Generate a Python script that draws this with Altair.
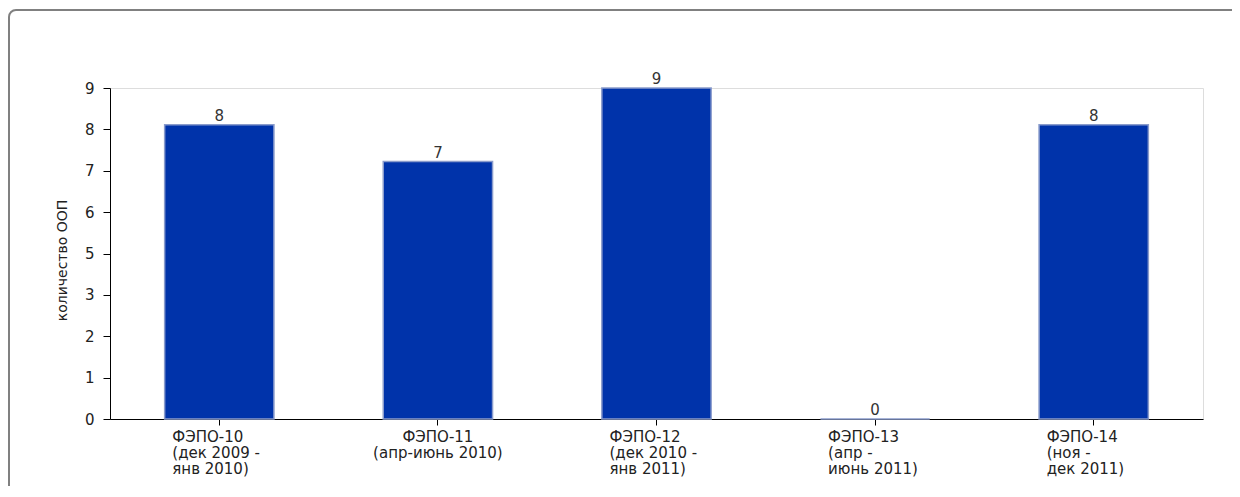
import altair as alt
import pandas as pd

categories = [
    "ФЭПО-10|(дек 2009 -|янв 2010)",
    "ФЭПО-11|(апр-июнь 2010)",
    "ФЭПО-12|(дек 2010 -|янв 2011)",
    "ФЭПО-13|(апр -|июнь 2011)",
    "ФЭПО-14|(ноя -|дек 2011)",
]
values = [8, 7, 9, 0, 8]
y_ticks = [0, 1.125, 2.25, 3.375, 4.5, 5.625, 6.75, 7.875, 9]
y_title = "количество ООП"

df = pd.DataFrame({"cat": categories, "val": values})
FONT = "DejaVu Sans"

x_enc = alt.X(
    "cat:N",
    sort=categories,
    title=None,
    scale=alt.Scale(paddingInner=0.5, paddingOuter=0.25),
    axis=alt.Axis(
        labelExpr="split(datum.label, '|')",
        labelAngle=0,
        labelFont=FONT,
        labelFontSize=15,
        labelLineHeight=16,
        labelColor="#222222",
        labelPadding=4,
        labelOverlap=False,
        labelBound=False,
        labelFlush=False,
        labelBaseline="top",
        labelAlign={"condition": {"test": "datum.value == '" + categories[1] + "'", "value": "center"}, "value": "left"},
        labelOffset={"condition": {"test": "datum.value == '" + categories[1] + "'", "value": 0}, "value": -47},
        tickSize=6,
        tickColor="#000000",
        domainColor="#000000",
        grid=False,
    ),
)

y_enc = alt.Y(
    "val:Q",
    title=y_title,
    scale=alt.Scale(domain=[0, 9], nice=False),
    axis=alt.Axis(
        values=y_ticks,
        labelExpr="format(round(datum.value), 'd')",
        labelFont=FONT,
        labelFontSize=15,
        labelColor="#222222",
        labelPadding=9,
        tickSize=7,
        tickColor="#000000",
        domainColor="#000000",
        grid=False,
        titleFont=FONT,
        titleFontSize=14,
        titleFontWeight="normal",
        titleColor="#222222",
        titleAngle=-90,
        titleX=-48,
        titleY=172,
        titleAlign="center",
        titleBaseline="middle",
    ),
)

bars = alt.Chart(df).mark_bar(
    color="#0033aa", stroke="#8a9ccc", strokeWidth=1.5
).encode(x=x_enc, y=y_enc)

labels = alt.Chart(df).mark_text(
    font=FONT, fontSize=15, color="#333333", baseline="bottom", dy=-1
).encode(x=alt.X("cat:N", sort=categories), y="val:Q", text="val:Q")

frame = alt.Chart(pd.DataFrame({"f": [0]})).mark_rect(
    fill=None, stroke="#808080", strokeWidth=2, cornerRadius=7, clip=False
).encode(
    x=alt.value(-101), x2=alt.value(1400), y=alt.value(-78), y2=alt.value(600)
)

chart = alt.layer(frame, bars, labels).properties(
    width=1093,
    height=331,
    autosize=alt.AutoSizeParams(type="none"),
    padding={"left": 102, "top": 80, "right": 29, "bottom": 67},
).configure_view(
    stroke="#c4c4c4", strokeWidth=2
).configure(background="white")

chart.save("out.html", embed_options={"renderer": "svg", "actions": False})
